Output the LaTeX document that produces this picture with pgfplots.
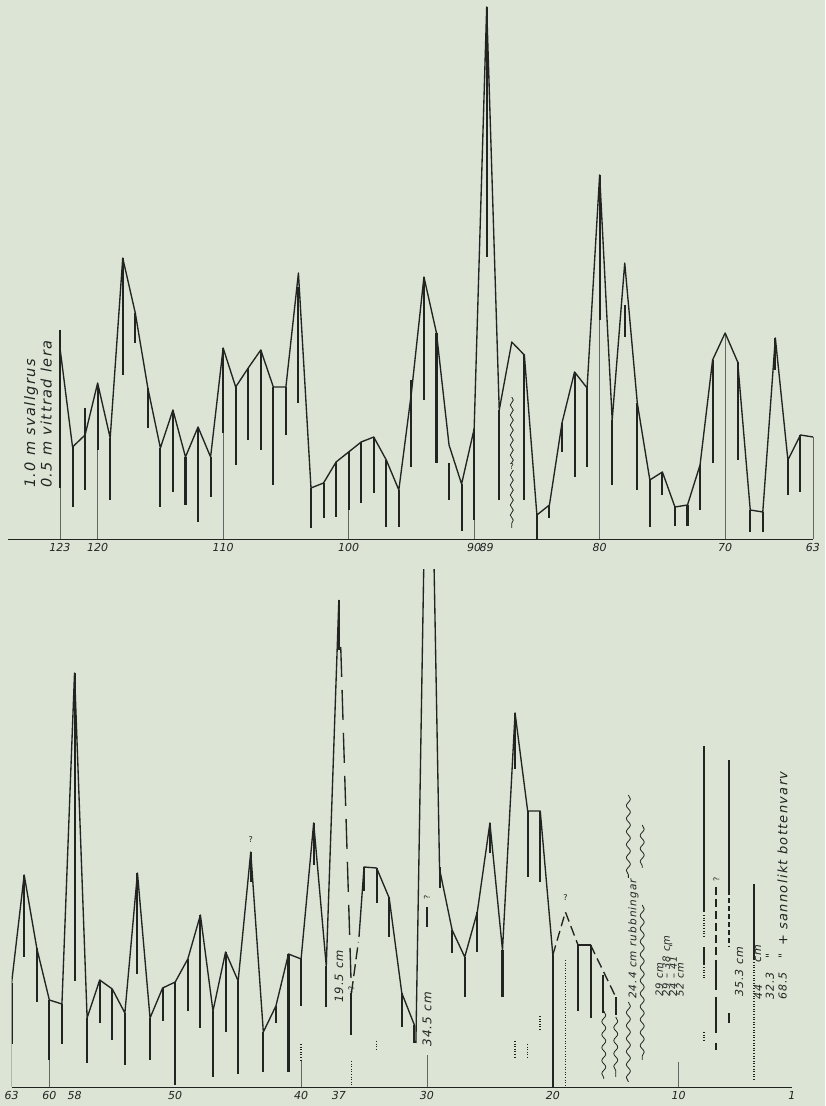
\documentclass[border=0pt]{standalone}
\usepackage{pgfplots}
\pgfplotsset{compat=1.18}
\usepackage{fontspec}
\setmainfont{DejaVu Sans}
\newfontfamily\tickf{DejaVu Sans}
\newfontfamily\annf[LetterSpace=10]{DejaVu Sans}
\usetikzlibrary{decorations.pathmorphing}
\definecolor{bgc}{RGB}{220,228,213}
\definecolor{lc}{RGB}{34,36,34}
\tikzset{
 thk/.style={lc, line width=2.05pt},
 crv/.style={lc, line width=1.35pt, line join=round},
 grd/.style={lc!70, line width=0.6pt},
 dotl/.style={lc, line width=1.5pt, dash pattern=on 1pt off 1.6pt},
 wav/.style={lc, line width=0.8pt, decorate, decoration={snake, amplitude=2pt, segment length=13pt}},
 ann/.style={rotate=90, anchor=west, inner sep=0pt, text=lc},
 qm/.style={inner sep=0.5pt, text=lc, font=\tickf\fontsize{8}{9}\selectfont},
}
\pgfplotsset{
 varve/.style={scale only axis, x dir=reverse, axis x line=bottom, axis y line=none,
  x axis line style={-, lc, line width=0.9pt}, major tick length=0pt,
  xticklabel style={font=\tickf\itshape\fontsize{11}{12}\selectfont, text=lc, inner sep=1pt, yshift=-3pt},
  unbounded coords=jump},
}
\begin{document}
\begin{tikzpicture}[x=1pt,y=1pt]
\fill[bgc] (0,0) rectangle (825,1106);
% ---------------- top panel
\begin{axis}[varve, at={(8pt,567pt)}, anchor=south west, width=805pt, height=539pt,
  xmin=63, xmax=127.143, ymin=0, ymax=539, clip=false,
  xtick={123,120,110,100,90,89,80,70,63}, xticklabels={123,120,110,100,90,89,80,70,63}]
\addplot[grd] coordinates {(123,0) (123,51) (123,nan) (120,0) (120,89) (120,nan) (110,0) (110,106) (110,nan)
 (100,0) (100,29) (100,nan) (90,0) (90,19) (90,nan) (80,0) (80,219) (80,nan) (70,0) (70,206) (70,nan) (63,0) (63,102)};
\addplot[thk] coordinates {
(123,209) (123,51) (123,nan) (122,92) (122,32) (122,nan) (121,131) (121,49) (121,nan)
(120,152) (120,89) (120,nan) (119,101) (119,39) (119,nan) (118,281) (118,164) (118,nan)
(117,226) (117,196) (117,nan) (116,151) (116,111) (116,nan) (115,91) (115,32) (115,nan)
(114,129) (114,47) (114,nan) (113,82) (113,34) (113,nan) (112,112) (112,17) (112,nan)
(111,82) (111,42) (111,nan) (110,191) (110,106) (110,nan) (109,152) (109,74) (109,nan)
(108,171) (108,99) (108,nan) (107,189) (107,89) (107,nan) (106,152) (106,54) (106,nan)
(105,152) (105,104) (105,nan) (104,252) (104,136) (104,nan) (103,51) (103,11) (103,nan)
(102,56) (102,21) (102,nan) (101,77) (101,22) (101,nan) (100,87) (100,29) (100,nan)
(99,97) (99,36) (99,nan) (98,102) (98,46) (98,nan) (97,79) (97,12) (97,nan)
(96,49) (96,12) (96,nan) (95,159) (95,72) (95,nan) (94,262) (94,139) (94,nan)
(93,206) (93,76) (93,nan) (92,76) (92,39) (92,nan) (91,55) (91,8) (91,nan)
(90,110) (90,19) (90,nan) (89,532) (89,282) (89,nan) (88,129) (88,39) (88,nan)
(86,184) (86,39) (86,nan) (85,24) (85,0) (85,nan) (84,34) (84,21) (84,nan)
(83,116) (83,87) (83,nan) (82,167) (82,62) (82,nan) (81,151) (81,72) (81,nan)
(80,364) (80,219) (80,nan) (79,119) (79,54) (79,nan) (78,234) (78,202) (78,nan)
(77,136) (77,49) (77,nan) (76,59) (76,12) (76,nan) (75,66) (75,44) (75,nan)
(74,32) (74,13) (74,nan) (73,34) (73,13) (73,nan) (72,74) (72,29) (72,nan)
(71,179) (71,76) (71,nan) (69,177) (69,79) (69,nan) (68,29) (68,7) (68,nan)
(67,27) (67,7) (67,nan) (66,201) (66,169) (66,nan) (65,79) (65,44) (65,nan) (64,104) (64,47)};
\addplot[crv] coordinates {
(123,191) (122,92) (121,104) (120,156) (119,101) (118,281) (117,226) (116,151) (115,91) (114,129)
(113,82) (112,112) (111,82) (110,191) (109,152) (108,171) (107,189) (106,152) (105,152) (104,266)
(103,51) (102,56) (101,77) (100,87) (99,97) (98,102) (97,79) (96,49) (95,146) (94,262)
(93,206) (92,94) (91,55) (90,110) (89,532) (88,129) (87,197) (86,184) (85,24) (84,34)
(83,116) (82,167) (81,151) (80,364) (79,119) (78,276) (77,136) (76,59) (75,67) (74,32)
(73,34) (72,74) (71,179) (70,206) (69,177) (68,29) (67,27) (66,201) (65,79) (64,104) (63,102)};
\addplot[wav, decoration={snake, amplitude=1.5pt, segment length=10pt}] coordinates {(87,142) (87,11)};
\node[qm, fill=bgc] at (axis cs:87,72) {?};
\node[ann, font=\annf\itshape\fontsize{14.5}{15}\selectfont] at (axis cs:125.3,51) {1.0 m svallgrus};
\node[ann, font=\annf\itshape\fontsize{14.5}{15}\selectfont] at (axis cs:124.1,51) {0.5 m vittrad lera};
\end{axis}
% ---------------- bottom panel
\begin{axis}[varve, at={(11.6pt,19pt)}, anchor=south west, width=780.4pt, height=517pt,
  xmin=1, xmax=63, ymin=0, ymax=517,
  xtick={63,60,58,50,40,37,30,20,10,1}, xticklabels={63,60,58,50,40,37,30,20,10,1}]
\addplot[grd] coordinates {(63,0) (63,43) (63,nan) (60,0) (60,27) (60,nan) (40,0) (40,26) (40,nan)
 (30,0) (30,32) (30,nan) (10,0) (10,25)};
\addplot[thk] coordinates {
(63,104) (63,43) (63,nan) (62,212) (62,130) (62,nan) (61,139) (61,85) (61,nan)
(60,87) (60,27) (60,nan) (59,83) (59,43) (59,nan) (58,414) (58,106) (58,nan)
(57,69) (57,24) (57,nan) (56,107) (56,64) (56,nan) (55,98) (55,47) (55,nan)
(54,74) (54,22) (54,nan) (53,214) (53,113) (53,nan) (52,69) (52,27) (52,nan)
(51,99) (51,66) (51,nan) (50,105) (50,2) (50,nan) (49,128) (49,76) (49,nan)
(48,172) (48,59) (48,nan) (47,76) (47,10) (47,nan) (46,135) (46,55) (46,nan)
(45,106) (45,13) (45,nan) (44,235) (44,205) (44,nan) (43,55) (43,15) (43,nan)
(42,81) (42,64) (42,nan) (41,133) (41,15) (41,nan) (40,128) (40,81) (40,nan)
(39,264) (39,222) (39,nan) (38,121) (38,80) (38,nan) (37,487) (37,437) (37,nan)
(36,94) (36,52) (36,nan) (35,220) (35,196) (35,nan) (34,219) (34,184) (34,nan)
(33,190) (33,150) (33,nan) (32,94) (32,60) (32,nan) (31,62) (31,44) (31,nan)
(30,180) (30,160) (30,nan) (29,220) (29,199) (29,nan) (28,157) (28,134) (28,nan)
(27,130) (27,90) (27,nan) (26,175) (26,135) (26,nan) (25,264) (25,234) (25,nan)
(24,137) (24,90) (24,nan) (23,374) (23,318) (23,nan) (22,276) (22,210) (22,nan)
(21,276) (21,205) (21,nan) (20,132) (20,0) (20,nan) (18,142) (18,76) (18,nan)
(17,142) (17,69) (17,nan) (16,112) (16,74) (16,nan) (15,90) (15,72) (15,nan)
(8,341) (8,175) (8,nan) (8,140) (8,122) (8,nan) (7,127) (7,97) (7,nan) (7,90) (7,54) (7,nan)
(7,44) (7,37) (7,nan) (6,327) (6,197) (6,nan) (6,74) (6,64) (6,nan) (4,203) (4,127)};
\addplot[dotl] coordinates {(40,43) (40,26) (40,nan) (36,26) (36,0) (36,nan) (34,46) (34,36) (34,nan)
 (23,46) (23,29) (23,nan) (22,43) (22,29) (22,nan) (21,71) (21,57) (21,nan) (19,127) (19,0) (19,nan)
 (8,55) (8,45) (8,nan) (8,172) (8,150) (8,nan) (8,120) (8,108) (8,nan) (4,125) (4,7)};
\addplot[thk, dash pattern=on 8pt off 4pt] coordinates {(7,200) (7,130)};
\addplot[thk, dash pattern=on 5pt off 3pt] coordinates {(6,197) (6,140)};
% curve pieces
\addplot[crv] coordinates {
(63,104) (62,212) (61,139) (60,87) (59,83) (58,414) (57,69) (56,107) (55,98) (54,74)
(53,214) (52,69) (51,99) (50,105) (49,128) (48,172) (47,76) (46,135) (45,106) (44,235)
(43,55) (42,81) (41,133) (40,128) (39,264) (38,121) (37,487)};
\addplot[crv, dash pattern=on 30pt off 13pt] coordinates {(36.85,440) (36.0,94)};
\addplot[crv, dash pattern=on 12pt off 5pt] coordinates {(36.0,94) (35.45,145)};
\addplot[crv] coordinates {(35.4,150) (35,220) (34,219) (33,189) (32,94) (31,62)};
\addplot[crv] coordinates {(30.88,44) (30.15,600) (29.55,600) (29,218) (28,157) (27,130) (26,175)
 (25,264) (24,137) (23,374) (22,276) (21,276) (20,132)};
\addplot[crv, dash pattern=on 10pt off 5pt] coordinates {(20,132) (19,175) (18,142)};
\addplot[crv] coordinates {(18,142) (17,142)};
\addplot[crv, dash pattern=on 10pt off 5pt] coordinates {(17,142) (16,116) (15,90)};
% wavy disturbance lines
\addplot[wav] coordinates {(14.0,292) (14.0,209)};
\addplot[wav] coordinates {(14.0,85) (14.0,5)};
\addplot[wav] coordinates {(12.9,262) (12.9,219)};
\addplot[wav] coordinates {(12.9,182) (12.9,27)};
\addplot[wav] coordinates {(15.95,76) (15.95,8)};
\addplot[wav] coordinates {(15.0,70) (15.0,10)};
% question marks
\node[qm] at (axis cs:44,247) {?};
\node[qm] at (axis cs:19,189) {?};
\node[qm, rotate=90] at (axis cs:36,99) {?};
\node[qm, rotate=90] at (axis cs:30,190) {?};
\node[qm, rotate=90] at (axis cs:7,208) {?};
% texts
\node[ann, font=\annf\itshape\fontsize{11.5}{12}\selectfont] at (axis cs:37.0,84) {19.5 cm};
\node[ann, font=\annf\itshape\fontsize{12}{13}\selectfont] at (axis cs:30.0,40) {34.5 cm};
\node[ann, font=\annf\itshape\fontsize{10.5}{11}\selectfont] at (axis cs:13.6,88) {24.4 cm rubbningar};
\node[ann, font=\annf\itshape\fontsize{10}{10}\selectfont] at (axis cs:11.55,90) {29 cm};
\node[ann, font=\annf\itshape\fontsize{10}{10}\selectfont] at (axis cs:11.0,90) {29 – 38 cm};
\node[ann, font=\annf\itshape\fontsize{10}{10}\selectfont] at (axis cs:10.45,90) {24 – 41 \ "};
\node[ann, font=\annf\itshape\fontsize{10}{10}\selectfont] at (axis cs:9.9,90) {52 cm};
\node[ann, font=\annf\itshape\fontsize{11}{11}\selectfont] at (axis cs:5.2,90) {35.3 cm};
\node[ann, font=\annf\itshape\fontsize{11}{11}\selectfont] at (axis cs:3.7,87) {44};
\node[ann, font=\annf\itshape\fontsize{11}{11}\selectfont] at (axis cs:3.7,124) {cm};
\node[ann, font=\annf\itshape\fontsize{11}{11}\selectfont] at (axis cs:2.75,87) {32.3};
\node[ann, font=\annf\itshape\fontsize{11}{11}\selectfont] at (axis cs:2.75,128) {"};
\node[ann, font=\annf\itshape\fontsize{11}{11}\selectfont] at (axis cs:1.75,87) {68.5};
\node[ann, font=\annf\itshape\fontsize{11}{11}\selectfont] at (axis cs:1.75,128) {"};
\node[ann, font=\annf\itshape\fontsize{13}{13}\selectfont] at (axis cs:1.75,141) {+ sannolikt bottenvarv};
\end{axis}
\end{tikzpicture}
\end{document}
